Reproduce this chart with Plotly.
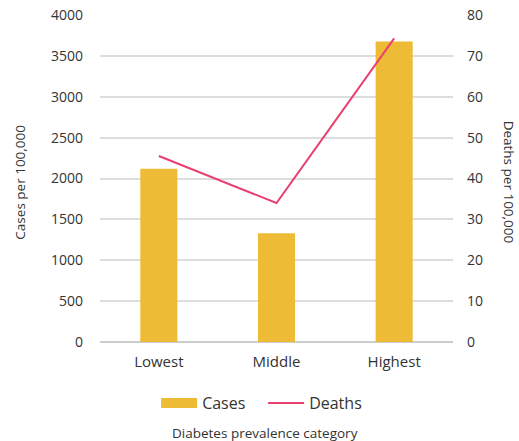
import plotly.graph_objects as go

categories = ["Lowest", "Middle", "Highest"]
cases = [2120, 1330, 3675]
deaths = [45.5, 34.0, 74.3]
left_ticks = [0, 500, 1000, 1500, 2000, 2500, 3000, 3500, 4000]
right_ticks = [0, 10, 20, 30, 40, 50, 60, 70, 80]

FONT = "Open Sans, Noto Sans, sans-serif"
TXT = "#333333"
BAR = "#EDBB35"
LINE = "#E8416F"

fig = go.Figure()
fig.add_trace(go.Bar(x=categories, y=cases, name="Cases", marker_color=BAR,
                     marker_line_width=0, yaxis="y", showlegend=False))
fig.add_trace(go.Scatter(x=[None], y=[None], name="Cases", mode="lines",
                         line=dict(color=BAR, width=10), yaxis="y", showlegend=True))
fig.add_trace(go.Scatter(x=categories, y=deaths, name="Deaths", mode="lines",
                         line=dict(color=LINE, width=2), yaxis="y2"))

fig.update_layout(
    width=519, height=441,
    margin=dict(l=100, r=66, t=15, b=99, autoexpand=False),
    paper_bgcolor="white", plot_bgcolor="white",
    font=dict(family=FONT, color=TXT, size=13),
    bargap=0.685,
    showlegend=True,
    legend=dict(orientation="h", x=0.159, xanchor="left", y=-0.187, yanchor="middle",
                font=dict(size=16, color=TXT), itemwidth=36,
                entrywidth=56, entrywidthmode="pixels"),
    xaxis=dict(showgrid=False, showline=False, zeroline=False, ticks="",
               tickfont=dict(size=15, color=TXT), ticklabelstandoff=9),
    yaxis=dict(range=[0, 4000], tickvals=left_ticks, showgrid=True, gridcolor="#dddddd",
               gridwidth=1.5, zeroline=True, zerolinecolor="#cccccc", zerolinewidth=2,
               showline=False, ticks="", ticklabelstandoff=16,
               tickfont=dict(size=14, color=TXT)),
    yaxis2=dict(range=[0, 80], tickvals=right_ticks, overlaying="y", side="right",
                showgrid=False, zeroline=False, showline=False, ticks="",
                ticklabelstandoff=13, tickfont=dict(size=14, color=TXT)),
    annotations=[
        dict(text="Cases per 100,000", xref="paper", yref="paper", x=-0.227, y=0.49,
             showarrow=False, textangle=-90, font=dict(size=13.5, color=TXT),
             xanchor="center", yanchor="middle"),
        dict(text="Deaths per 100,000", xref="paper", yref="paper", x=1.159, y=0.49,
             showarrow=False, textangle=90, font=dict(size=13.5, color=TXT),
             xanchor="center", yanchor="middle"),
        dict(text="Diabetes prevalence category", xref="paper", yref="paper", x=0.4666, y=-0.279,
             showarrow=False, font=dict(size=13.5, color=TXT),
             xanchor="center", yanchor="middle"),
    ],
)

fig.write_html("out.html", config={"displayModeBar": False},
               post_script="document.body.style.margin='0';")
